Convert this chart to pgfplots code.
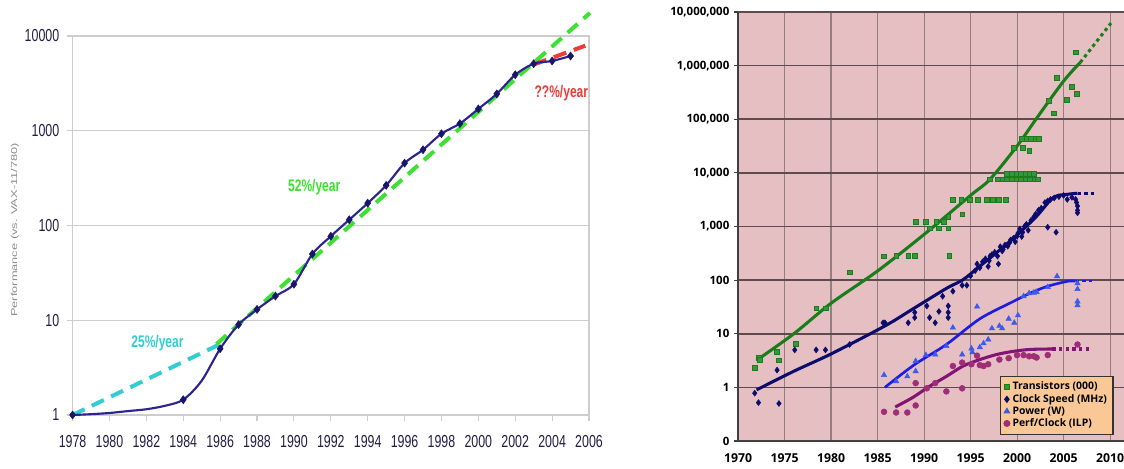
\documentclass[border=0pt]{standalone}
\usepackage{fontspec}
\setmainfont{Liberation Sans}
\newfontfamily\rfont{Open Sans}
\usepackage{graphicx}
\usepackage{pgfplots}
\pgfplotsset{compat=1.18}

\definecolor{perfline}{RGB}{45,35,145}
\definecolor{perfmark}{RGB}{25,22,105}
\definecolor{dgreen}{RGB}{60,225,50}
\definecolor{dcyan}{RGB}{50,205,210}
\definecolor{dred}{RGB}{235,60,55}
\definecolor{lgrid}{RGB}{205,205,205}
\definecolor{ltick}{RGB}{35,30,70}
\definecolor{pinkbg}{RGB}{230,191,195}
\definecolor{hgrid}{RGB}{95,75,78}
\definecolor{vgrid}{RGB}{150,125,128}
\definecolor{trgreen}{RGB}{25,125,25}
\definecolor{trmark}{RGB}{55,150,60}
\definecolor{clknavy}{RGB}{12,12,110}
\definecolor{pwblue}{RGB}{30,30,225}
\definecolor{pwmark}{RGB}{60,90,235}
\definecolor{ilpline}{RGB}{130,20,115}
\definecolor{ilpmark}{RGB}{160,45,120}
\definecolor{legbg}{RGB}{250,200,150}

% the left chart is stretched vertically in the source
\newcommand{\vs}[1]{\scalebox{1}[1.4]{#1}}

\begin{document}
\begin{tikzpicture}
\useasboundingbox (0,0) rectangle (843pt,351pt);
\fill[white] (0,0) rectangle (843pt,351pt);

% ---- left: performance vs VAX-11/780
\begin{axis}[
  at={(54.45pt,39.75pt)}, anchor=south west,
  scale only axis, width=387.3pt, height=284.25pt,
  xmin=1978, xmax=2006, ymode=log, ymin=1, ymax=10000,
  xtick={1978,1980,...,2006},
  xticklabels={\vs{1978},\vs{1980},\vs{1982},\vs{1984},\vs{1986},\vs{1988},\vs{1990},\vs{1992},\vs{1994},\vs{1996},\vs{1998},\vs{2000},\vs{2002},\vs{2004},\vs{2006}},
  ytick={1,10,100,1000,10000},
  yticklabels={\vs{1},\vs{10},\vs{100},\vs{1000},\vs{10000}},
  yminorticks=false,
  axis line style={draw=lgrid, line width=0.8pt},
  ymajorgrids, major grid style={draw=lgrid, line width=1pt},
  tick style={draw=lgrid, line width=0.8pt},
  major tick length=4.5pt, tick align=outside,
  xtick pos=bottom, ytick pos=left,
  ticklabel style={font=\fontsize{9.3}{10}\selectfont, text=ltick},
  xticklabel style={yshift=-7.5pt},
  yticklabel style={xshift=-2pt},
  clip=false,
]
\addplot[dcyan, line width=3pt, dash pattern=on 10pt off 6pt] coordinates {(1978,1) (1986,5.6)};
\addplot[dgreen, line width=3pt, dash pattern=on 10pt off 6pt] coordinates {(1985.8,5.6) (2006.05,17500)};
\addplot[dred, line width=3pt, dash pattern=on 10pt off 6pt] coordinates {(2003,5000) (2005.8,7900)};
\addplot[perfline, line width=1.6pt, smooth] coordinates {
  (1978,1) (1979,1.02) (1980,1.05) (1981,1.1) (1982,1.15) (1983,1.25) (1984,1.45)
  (1985,2.3) (1986,5) (1987,9) (1988,13) (1989,18) (1990,24) (1991,50) (1992,77)
  (1993,115) (1994,172) (1995,265) (1996,455) (1997,630) (1998,930) (1999,1190)
  (2000,1700) (2001,2450) (2002,3900) (2003,5100) (2004,5450) (2005,6150)};
\addplot[only marks, mark=diamond*, mark size=3pt, perfmark] coordinates {
  (1978,1) (1984,1.45) (1986,5) (1987,9) (1988,13) (1989,18) (1990,24) (1991,50) (1992,77)
  (1993,115) (1994,172) (1995,265) (1996,455) (1997,630) (1998,930) (1999,1190)
  (2000,1700) (2001,2450) (2002,3900) (2003,5100) (2004,5450) (2005,6150)};
\node[text=dgreen, font=\bfseries\fontsize{9}{10}\selectfont] at (axis cs:1991.1,257) {\vs{52\%/year}};
\node[text=dcyan, font=\bfseries\fontsize{9}{10}\selectfont] at (axis cs:1982.6,5.7) {\vs{25\%/year}};
\node[text=dred, font=\bfseries\fontsize{9}{10}\selectfont] at (axis cs:2004.5,2470) {\vs{??\%/year}};
\end{axis}
\node[rotate=90, text=black!45, font=\fontsize{6.4}{7}\selectfont] at (11.25pt,178.5pt)
  {\scalebox{1.5}[1]{Performance (vs. VAX-11/780)}};

% ---- right: transistors, clock, power, ILP
\begin{axis}[
  at={(553.5pt,20.25pt)}, anchor=south west,
  scale only axis, width=289.5pt, height=321.75pt,
  xmin=1970, xmax=2011.5, ymode=log, ymin=0.1, ymax=1e7,
  axis background/.style={fill=pinkbg},
  axis x line*=bottom, axis y line*=left,
  axis line style={draw=black!75, line width=1pt, -},
  xtick={1970,1975,...,2010},
  xticklabels={1970,1975,1980,1985,1990,1995,2000,2005,2010},
  ytick={0.1,1,10,100,1000,10000,100000,1000000,10000000},
  yticklabels={0,1,10,100,{1,000},{10,000},{100,000},{1,000,000},{10,000,000}},
  yminorticks=false,
  xmajorgrids, ymajorgrids,
  every axis x grid/.style={draw=vgrid, line width=0.8pt},
  every axis y grid/.style={draw=hgrid, line width=1.2pt},
  xtick style={draw=none},
  ytick style={draw=black!75, line width=0.8pt},
  major tick length=3pt, tick align=outside,
  xticklabel style={font=\rfont\bfseries\fontsize{9.2}{10}\selectfont, yshift=-3pt},
  yticklabel style={font=\rfont\bfseries\fontsize{8.6}{9}\selectfont},
  legend style={at={(0.679,0.014)}, anchor=south west, fill=legbg, draw=black!80,
    line width=0.8pt, font=\rfont\bfseries\fontsize{7.8}{8}\selectfont,
    row sep=-2.2pt, inner sep=2.5pt},
  legend cell align=left,
]
% trend lines
\addplot[trgreen, line width=2.3pt, smooth, forget plot] coordinates {
  (1972,3.2) (1976,10) (1980,37) (1985,148) (1990,710) (1995,3800) (1997.1,7600)
  (2000,31600) (2002.2,110000) (2005,513000) (2006.8,1150000)};
\addplot[trgreen, line width=2.3pt, dash pattern=on 2.5pt off 2.5pt, forget plot] coordinates {
  (2006.8,1150000) (2010.1,6200000)};
\addplot[clknavy, line width=2.3pt, smooth, forget plot] coordinates {
  (1972,0.9) (1976,2.0) (1980,4.2) (1985.8,14) (1988.8,29) (1992.4,70) (1994.2,102)
  (1996,182) (1998.2,372) (2000.3,776) (2002.1,1550) (2003.9,3470) (2005.4,3980) (2006.5,4170)};
\addplot[clknavy, line width=2.3pt, dash pattern=on 2.5pt off 2.5pt, forget plot] coordinates {
  (2006.5,4170) (2008.4,4170)};
\addplot[pwblue, line width=2pt, smooth, forget plot] coordinates {
  (1985.8,1.0) (1988.9,2.6) (1992.4,6.3) (1996,19) (1999.6,40) (2001.4,57) (2003.2,76)
  (2005.4,95) (2006.3,96)};
\addplot[pwblue, line width=2pt, dash pattern=on 2.5pt off 2.5pt, forget plot] coordinates {
  (2006.3,96) (2008.2,96)};
\addplot[ilpline, line width=2.3pt, smooth, forget plot] coordinates {
  (1986.9,0.43) (1988.8,0.65) (1990.6,1.05) (1992.4,1.6) (1994.2,2.5) (1996,3.3)
  (1997.8,4.1) (1999.6,4.7) (2001.4,5.1) (2003.8,5.2)};
\addplot[ilpline, line width=2.3pt, dash pattern=on 2.5pt off 2.5pt, forget plot] coordinates {
  (2003.8,5.2) (2007.9,5.2)};
% data points
\addplot[only marks, mark=square*, mark size=1.8pt,
  mark options={fill=trmark, draw=trgreen, line width=0.3pt}] coordinates {
  (1971.8,2.3) (1972.2,3.6) (1972.3,3.3) (1974.2,4.7) (1974.4,3.2) (1976.2,6.6)
  (1978.4,30) (1979.4,30) (1982.0,140) (1985.7,280) (1987.0,290) (1988.3,290)
  (1989.0,290) (1992.7,290)
  (1989.1,1250) (1990.2,1250) (1991.3,1250) (1992.1,1250) (1992.6,1500)
  (1990.6,930) (1991.6,930) (1992.6,930) (1994.1,1700)
  (1993.1,3200) (1994.0,3200) (1994.9,3200) (1995.8,3200) (1996.7,3200) (1997.4,3200)
  (1998.0,3200) (1998.8,3200)
  (1997.1,7600) (1997.9,7600) (1998.4,7600) (1998.9,7600) (1999.4,7600) (1999.9,7600)
  (2000.4,7600) (2000.9,7600) (2001.4,7600) (2001.9,7600) (2002.2,7600)
  (1998.9,9800) (1999.4,9800) (1999.9,9800) (2000.4,9800) (2000.9,9800) (2001.4,9800) (2001.8,9800)
  (1999.6,29000) (2000.6,29000) (2001.3,26000)
  (2000.5,44000) (2001.0,44000) (2001.5,44000) (2002.0,44000) (2002.3,44000)
  (2003.9,130000) (2003.4,225000) (2005.3,235000) (2006.4,295000) (2005.9,400000)
  (2004.3,600000) (2006.3,1780000)};
\addlegendentry{Transistors (000)}
\addplot[only marks, mark=diamond*, mark size=2.2pt, clknavy] coordinates {
  (1971.8,0.78) (1972.2,0.52) (1974.2,2.1) (1974.4,0.5) (1976.1,5) (1978.4,5) (1979.4,5)
  (1982.0,6.3) (1985.8,16) (1985.6,16) (1988.3,16) (1989.0,25) (1989.0,20) (1990.3,33)
  (1990.6,20) (1991.2,16) (1991.6,26) (1992.0,50) (1992.6,33) (1992.6,25) (1992.6,20)
  (1993.1,62) (1994.1,80) (1994.6,80) (1995.0,120) (1995.5,150) (1995.7,200) (1996.0,170)
  (1996.3,220) (1996.6,250) (1996.9,180) (1997.0,230) (1997.1,280) (1997.3,300) (1997.6,330)
  (1997.9,280) (1998.0,200) (1998.2,420) (1998.4,350) (1998.5,375) (1998.7,450) (1999.0,430)
  (1999.2,500) (1999.3,560) (1999.6,600) (1999.8,520) (2000.0,660) (2000.1,750) (2000.3,900)
  (2000.5,650) (2000.6,780) (2000.8,1000) (2001.0,1100) (2001.2,850) (2001.5,1300)
  (2001.8,1500) (2002.0,1700) (2002.3,2000) (2002.6,2200) (2003.0,2800) (2003.3,3000)
  (2003.3,970) (2003.6,3200) (2004.0,3400) (2004.2,780) (2004.5,3600) (2005.0,3800)
  (2005.4,3200) (2005.9,3500) (2006.3,3200) (2006.4,2800) (2006.5,2400) (2006.5,2000)
  (2006.5,1800)};
\addlegendentry{Clock Speed (MHz)}
\addplot[only marks, mark=triangle*, mark size=2.3pt, pwmark] coordinates {
  (1985.7,1.7) (1987.0,1.3) (1988.2,1.6) (1989.1,2.0) (1989.1,3.1) (1990.2,4) (1991.2,4.1)
  (1992.4,5.9) (1993.1,13) (1994.1,4.1) (1995.1,5.3) (1995.2,4.5) (1995.7,32) (1996.0,5.6)
  (1996.4,6.6) (1996.9,7.8) (1997.3,12.6) (1998.1,14) (1998.4,12.6) (1999.1,19) (1999.7,16)
  (2000.1,22) (2000.7,50) (2001.3,57) (2001.8,58) (2002.1,60) (2003.3,74) (2004.3,118)
  (2006.5,87) (2006.5,68) (2006.5,40) (2006.5,34)};
\addlegendentry{Power (W)}
\addplot[only marks, mark=*, mark size=2.2pt, ilpmark] coordinates {
  (1985.7,0.35) (1987.0,0.34) (1988.2,0.34) (1989.1,0.46) (1989.1,1.2) (1990.3,0.96)
  (1991.2,1.2) (1992.4,0.84) (1993.1,2.5) (1994.1,2.9) (1994.1,0.96) (1995.1,2.7)
  (1995.7,3.9) (1996.0,2.6) (1996.4,2.5) (1996.9,2.7) (1998.1,3.3) (1999.1,3.5)
  (2000.0,4.0) (2000.7,4.0) (2001.3,3.8) (2001.8,3.8) (2002.1,3.6) (2003.3,4.0)
  (2006.5,6.3)};
\addlegendentry{Perf/Clock (ILP)}
\end{axis}
\end{tikzpicture}
\end{document}
